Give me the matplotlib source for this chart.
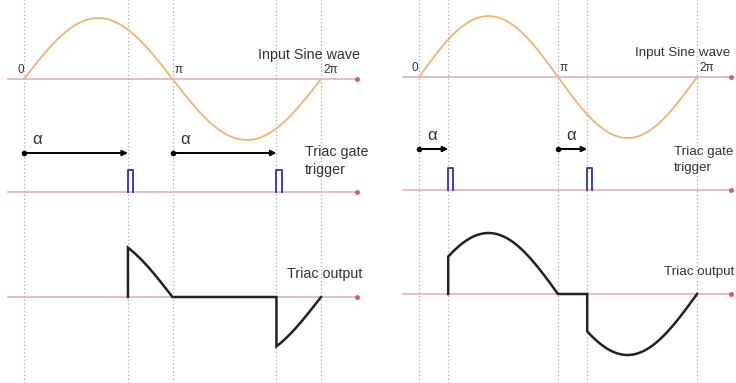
import numpy as np
import matplotlib

matplotlib.use("Agg")
import matplotlib.pyplot as plt

# firing angle of each panel, as a fraction of pi
FIRING = [0.70, 0.21]
PHASE_TICKS = ["0", "\u03c0", "2\u03c0"]
ROW_LABELS = ["Input Sine wave", "Triac gate\ntrigger", "Triac output"]

W, H = 736, 383
AMP_PX = 61.0          # pixels per unit amplitude
PULSE_W = 0.11         # gate pulse width, rad
PULSE_H = 0.36         # gate pulse height, amplitude units

C_SINE = "#f1b46c"
C_AXIS = "#dcaac4"
C_DOT = "#d5577a"
C_GRID = "#a8a8a8"
C_PULSE = "#3f3fae"
C_OUT = "#222222"
C_TEXT = "#333333"

plt.rcParams["font.family"] = ["Liberation Sans", "DejaVu Sans"]

# per-panel layout, pixels: origin x, px per pi, axis extent, row baselines
PANELS = [
    dict(left=0, origin=24, per_pi=148.5, ax0=8, ax1=357, fs=10.3,
         sine=79, arrow=153, gate=192, out=297,
         lab_sine=(258, 55), lab_gate=(305, 161), lab_out=(287, 274)),
    dict(left=368, origin=419, per_pi=139.0, ax0=403, ax1=731, fs=9.6,
         sine=77, arrow=149, gate=190, out=294,
         lab_sine=(635, 53), lab_gate=(674, 160), lab_out=(664, 272)),
]


def output_wave(a):
    """Phase-controlled triac output for firing angle a (rad)."""
    th1 = np.linspace(a, np.pi, 200)
    th2 = np.linspace(np.pi + a, 2 * np.pi, 200)
    x = np.concatenate([[a], th1, [np.pi + a], th2])
    y = np.concatenate([[0.0], np.sin(th1), [0.0], np.sin(th2)])
    return x, y


fig = plt.figure(figsize=(W / 100, H / 100), dpi=100)

for frac, p in zip(FIRING, PANELS):
    pw = W / 2
    ax = fig.add_axes([p["left"] / W, 0, pw / W, 1])
    k = p["per_pi"] / np.pi                      # px per rad
    xo = p["origin"] - p["left"]
    ax.set_xlim(-xo / k, (pw - xo) / k)
    ax.set_ylim(0, H / AMP_PX)
    ax.axis("off")

    def X(px):
        return (px - p["origin"]) / k

    def Y(py):
        return (H - py) / AMP_PX

    a = frac * np.pi
    ys, yg, yo = Y(p["sine"]), Y(p["gate"]), Y(p["out"])

    # dotted phase markers through all three rows
    for xv in [0, a, np.pi, np.pi + a, 2 * np.pi]:
        ax.plot([xv, xv], [0, H / AMP_PX], color=C_GRID, lw=0.9,
                ls=(0, (1, 2.0)), zorder=1)

    # row axes with end dot
    for yb in (ys, yg, yo):
        ax.plot([X(p["ax0"]), X(p["ax1"])], [yb, yb], color=C_AXIS, lw=1.1, zorder=2)
        ax.plot([X(p["ax1"])], [yb], "o", color=C_DOT, ms=2.5, zorder=3)

    # input sine
    th = np.linspace(0, 2 * np.pi, 400)
    ax.plot(th, ys + np.sin(th), color=C_SINE, lw=1.3, zorder=4)
    for xv, lab in zip([0, np.pi, 2 * np.pi], PHASE_TICKS):
        ax.text(xv + (-7 if lab == "0" else 2) / k, ys + 3 / AMP_PX, lab,
                fontsize=8.5, color=C_TEXT, ha="left", va="bottom")

    # firing-angle arrows
    ya = Y(p["arrow"])
    for x0 in (0, np.pi):
        ax.annotate("", xy=(x0 + a, ya), xytext=(x0, ya),
                    arrowprops=dict(arrowstyle="-|>", color="black", lw=1.4,
                                    shrinkA=0, shrinkB=0, mutation_scale=8))
        ax.plot([x0], [ya], "o", color="black", ms=3)
        ax.text(x0 + 8 / k, ya + 6 / AMP_PX, "\u03b1", fontsize=12,
                color=C_TEXT, ha="left", va="bottom")

    # gate pulses
    for x0 in (a, np.pi + a):
        ax.plot([x0, x0, x0 + PULSE_W, x0 + PULSE_W],
                [yg, yg + PULSE_H, yg + PULSE_H, yg], color=C_PULSE, lw=1.4, zorder=4)

    # triac output
    xw, yw = output_wave(a)
    ax.plot(xw, yo + yw, color=C_OUT, lw=1.8, zorder=5, solid_joinstyle="miter")

    for key, lab in zip(["lab_sine", "lab_gate", "lab_out"], ROW_LABELS):
        tx, ty = p[key]
        ax.text(X(tx), Y(ty), lab, fontsize=p["fs"], color=C_TEXT, ha="left",
                va="center", linespacing=1.4, clip_on=False)

fig.savefig("out.png", dpi=100)
